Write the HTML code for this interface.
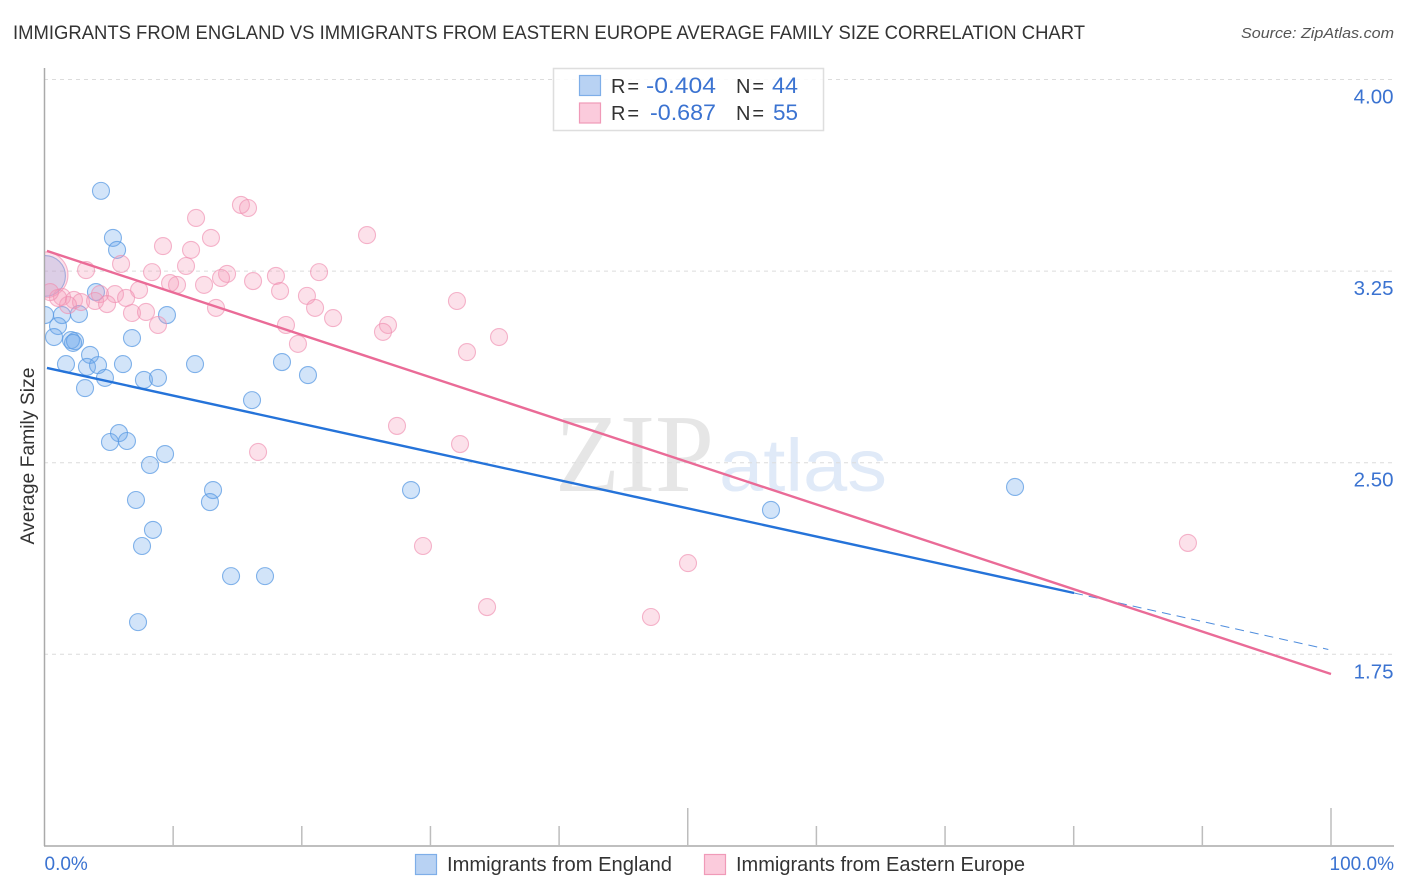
<!DOCTYPE html>
<html lang="en">
<head>
<meta charset="utf-8">
<title>Immigrants from England vs Immigrants from Eastern Europe Average Family Size Correlation Chart</title>
<style>
html,body{margin:0;padding:0;background:#fff;width:1406px;height:892px;overflow:hidden}
svg{display:block;font-family:"Liberation Sans",sans-serif}
</style>
</head>
<body>
<svg id="chart" width="1406" height="892" viewBox="0 0 1406 892" xmlns="http://www.w3.org/2000/svg">
  <defs>
    <clipPath id="plot-clip"><rect x="45" y="60" width="1349" height="786"/></clipPath>
  </defs>
  <text x="13" y="39" font-size="19" fill="#333" textLength="1072" lengthAdjust="spacingAndGlyphs">IMMIGRANTS FROM ENGLAND VS IMMIGRANTS FROM EASTERN EUROPE AVERAGE FAMILY SIZE CORRELATION CHART</text>
  <text x="1241" y="38" font-size="15" font-style="italic" fill="#555" textLength="153" lengthAdjust="spacingAndGlyphs">Source: ZipAtlas.com</text>
  <g>
    <text x="555" y="491" font-family="'Liberation Serif',serif" font-size="111" fill="#e6e6e6" textLength="159" lengthAdjust="spacingAndGlyphs">ZIP</text>
    <text x="719" y="491" font-size="74" fill="#e0eaf8" textLength="168" lengthAdjust="spacingAndGlyphs">atlas</text>
  </g>
  <g id="grid"></g>
  <g id="axes"></g>
  <g id="points" clip-path="url(#plot-clip)"></g>
  <g id="trends"></g>
  <text transform="translate(34,456) rotate(-90)" text-anchor="middle" font-size="19" fill="#333" textLength="177" lengthAdjust="spacingAndGlyphs">Average Family Size</text>
  <g>
    <rect x="553.5" y="68.5" width="270" height="62" fill="#fff" fill-opacity="0.85" stroke="#dedede" stroke-width="1.5"/>
    <rect x="579.5" y="75.5" width="21" height="20" fill="#b8d2f3" stroke="#7eaee8" stroke-width="1.2"/>
    <rect x="579.5" y="103" width="21" height="20" fill="#fbcbdc" stroke="#f09ab8" stroke-width="1.2"/>
    <text x="611" y="93" font-size="20" fill="#333" textLength="28" lengthAdjust="spacing">R =</text>
    <text x="646" y="93" font-size="22" fill="#3b73d1" textLength="70" lengthAdjust="spacingAndGlyphs">-0.404</text>
    <text x="736" y="93" font-size="20" fill="#333" textLength="28" lengthAdjust="spacing">N =</text>
    <text x="772" y="93" font-size="22" fill="#3b73d1" textLength="26" lengthAdjust="spacingAndGlyphs">44</text>
    <text x="611" y="120" font-size="20" fill="#333" textLength="28" lengthAdjust="spacing">R =</text>
    <text x="650" y="120" font-size="22" fill="#3b73d1" textLength="66" lengthAdjust="spacingAndGlyphs">-0.687</text>
    <text x="736" y="120" font-size="20" fill="#333" textLength="28" lengthAdjust="spacing">N =</text>
    <text x="773" y="120" font-size="22" fill="#3b73d1" textLength="25" lengthAdjust="spacingAndGlyphs">55</text>
  </g>
  <g>
    <g>
      <rect x="415.5" y="854.5" width="21" height="20" fill="#b8d2f3" stroke="#7eaee8" stroke-width="1.2"/>
      <text x="447" y="871" font-size="20" fill="#333" textLength="225" lengthAdjust="spacingAndGlyphs">Immigrants from England</text>
    </g>
    <g>
      <rect x="704.5" y="854.5" width="21" height="20" fill="#fbcbdc" stroke="#f09ab8" stroke-width="1.2"/>
      <text x="736" y="871" font-size="20" fill="#333" textLength="289" lengthAdjust="spacingAndGlyphs">Immigrants from Eastern Europe</text>
    </g>
  </g>
</svg>
<script>
// Chart data
const yTicks = [4.00, 3.25, 2.50, 1.75];
const yTickLabels = ["4.00", "3.25", "2.50", "1.75"];
const xTicks = [0, 10, 20, 30, 40, 50, 60, 70, 80, 90, 100];
const xTickLabels = ["0.0%", "100.0%"];

const englandX = [4.39,5.32,5.64,4.00,0.04,1.36,2.68,1.05,0.74,2.06,2.37,2.22,6.80,9.52,3.54,1.67,3.30,4.16,6.10,11.70,18.46,20.48,7.73,8.82,4.70,3.15,16.13,5.79,5.09,6.41,9.37,8.20,7.11,13.10,12.86,28.49,8.43,7.58,14.50,17.14,7.27,56.47,75.44,0.04];
const englandY = [3.564,3.380,3.333,3.168,3.078,3.078,3.082,3.035,2.992,2.980,2.976,2.969,2.988,3.078,2.922,2.886,2.875,2.882,2.886,2.886,2.894,2.843,2.824,2.832,2.832,2.792,2.745,2.616,2.581,2.585,2.534,2.491,2.354,2.393,2.346,2.393,2.237,2.174,2.056,2.056,1.876,2.315,2.405,3.231];
const englandWeight = [1,1,1,1,1,1,1,1,1,1,1,1,1,1,1,1,1,1,1,1,1,1,1,1,1,1,1,1,1,1,1,1,1,1,1,1,1,1,1,1,1,1,1,2.4];

const easternX = [0.04,3.23,5.95,8.36,11.00,11.78,9.21,11.39,12.94,15.27,15.82,25.07,21.34,17.99,16.21,14.19,13.72,12.40,10.30,9.76,7.35,18.31,20.40,5.48,4.31,6.34,1.36,2.29,2.84,3.93,4.86,1.83,1.05,0.43,6.80,7.89,8.82,13.33,21.03,22.43,18.77,26.70,26.31,19.70,32.06,35.33,32.84,27.40,32.30,16.60,29.42,50.02,34.40,47.14,88.88];
const easternY = [3.235,3.254,3.278,3.246,3.270,3.458,3.348,3.333,3.380,3.509,3.497,3.391,3.246,3.231,3.211,3.239,3.223,3.196,3.196,3.203,3.176,3.172,3.153,3.160,3.160,3.145,3.149,3.137,3.129,3.133,3.121,3.117,3.145,3.168,3.086,3.090,3.039,3.106,3.106,3.066,3.039,3.039,3.012,2.965,3.133,2.992,2.933,2.644,2.573,2.542,2.174,2.107,1.935,1.896,2.186];
const easternWeight = [2.7,1,1,1,1,1,1,1,1,1,1,1,1,1,1,1,1,1,1,1,1,1,1,1,1,1,1,1,1,1,1,1,1,1,1,1,1,1,1,1,1,1,1,1,1,1,1,1,1,1,1,1,1,1,1];

const englandTrendX = [0.19, 80.03];
const englandTrendY = [2.871, 1.990];
const englandDashX = [80.03, 99.79];
const englandDashY = [1.990, 1.769];
const easternTrendX = [0.19, 100];
const easternTrendY = [3.329, 1.673];

// Axis functions
const SVGNS = "http://www.w3.org/2000/svg";
function sx(v){ return 44.5 + v * 12.865; }
function sy(v){ return 79.5 + (4 - v) * 255.47; }
function mk(tag, parent, attrs){
  const el = document.createElementNS(SVGNS, tag);
  for (const k in attrs) el.setAttribute(k, attrs[k]);
  parent.appendChild(el);
  return el;
}
const grid = document.getElementById("grid");
const axes = document.getElementById("axes");
const points = document.getElementById("points");
const trends = document.getElementById("trends");

yTicks.forEach(function(t, i){
  const g = mk("line", grid, {x1:44, x2:1394, y1:sy(t), y2:sy(t), stroke:"#dcdcdc", "stroke-width":1, "stroke-dasharray":"4 4"});
  
  
  const lab = mk("text", axes, {x:1393.5, y:sy(t)+24, "text-anchor":"end", "font-size":20.5, fill:"#3b73d1"});
  
  
  lab.textContent = yTickLabels[i];
});

const yAxis = mk("line", axes, {x1:44.5, x2:44.5, y1:68, y2:846, stroke:"#aaaaaa", "stroke-width":1.5});


const xAxis = mk("line", axes, {x1:44, x2:1394, y1:846, y2:846, stroke:"#aaaaaa", "stroke-width":1.5});



xTicks.forEach(function(t){
  if (t === 0) return;
  const top = (t === 50 || t === 100) ? 808 : 826;
  const tick = mk("line", axes, {x1:sx(t), x2:sx(t), y1:top, y2:846, stroke:"#bdbdbd", "stroke-width":1.5});
  
  
});
const xLab0 = mk("text", axes, {x:sx(xTicks[0]), y:870, "font-size":19, fill:"#3b73d1"});


xLab0.textContent = xTickLabels[0];
const xLab1 = mk("text", axes, {x:1394, y:870, "text-anchor":"end", "font-size":19, fill:"#3b73d1"});


xLab1.textContent = xTickLabels[1];

englandX.forEach(function(v, i){
  const c = mk("circle", points, {cx:sx(v), cy:sy(englandY[i]), r:8.5*englandWeight[i], fill:"#6aa5ea", "fill-opacity":0.3, stroke:"#5b9be3", "stroke-opacity":0.75, "stroke-width":1.1});
  
  
});
easternX.forEach(function(v, i){
  const c = mk("circle", points, {cx:sx(v), cy:sy(easternY[i]), r:8.5*easternWeight[i], fill:"#f49ab8", "fill-opacity":0.3, stroke:"#f08fb0", "stroke-opacity":0.65, "stroke-width":1.1});
  
  
});

const t1 = mk("line", trends, {x1:sx(englandTrendX[0]), y1:sy(englandTrendY[0]), x2:sx(englandTrendX[1]), y2:sy(englandTrendY[1]), stroke:"#2573d9", "stroke-width":2.4});


const t2 = mk("line", trends, {x1:sx(englandDashX[0]), y1:sy(englandDashY[0]), x2:sx(englandDashX[1]), y2:sy(englandDashY[1]), stroke:"#4f8ddd", "stroke-width":1, "stroke-dasharray":"9 6"});


const t3 = mk("line", trends, {x1:sx(easternTrendX[0]), y1:sy(easternTrendY[0]), x2:sx(easternTrendX[1]), y2:sy(easternTrendY[1]), stroke:"#ea6b97", "stroke-width":2.4});


</script>
</body>
</html>
